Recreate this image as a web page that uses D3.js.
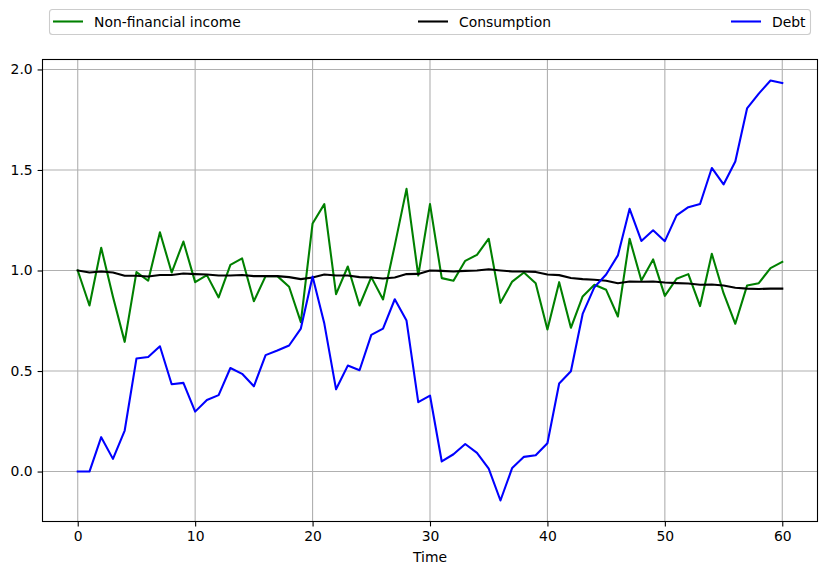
<!DOCTYPE html>
<html><head><meta charset="utf-8">
<script src="https://cdn.jsdelivr.net/npm/d3@7"></script>
<style>
body{margin:0;background:#fff;}
svg{display:block;font-family:"DejaVu Sans",sans-serif;}
</style></head><body>
<svg id="chart" width="826" height="574"></svg>
<script>
const time = d3.range(0, 61);
const income = [1.0,0.826,1.113,0.87,0.645,0.992,0.949,1.19,0.99,1.144,0.942,0.977,0.866,1.028,1.06,0.847,0.972,0.972,0.919,0.743,
  1.234,1.33,0.882,1.02,0.826,0.967,0.856,1.125,1.406,0.975,1.33,0.962,0.949,1.048,1.078,1.158,0.839,0.945,0.99,0.937,
  0.707,0.942,0.715,0.871,0.929,0.904,0.771,1.158,0.95,1.055,0.874,0.959,0.982,0.823,1.083,0.887,0.735,0.925,0.937,1.012,1.043];
const consumption = [1.0,0.99,0.995,0.99,0.974,0.974,0.97,0.978,0.978,0.985,0.982,0.98,0.975,0.975,0.978,0.972,0.972,0.972,0.967,0.957,
  0.965,0.98,0.975,0.975,0.967,0.965,0.96,0.965,0.982,0.983,1.0,0.998,0.995,0.998,1.0,1.006,1.0,0.995,0.995,0.993,
  0.98,0.977,0.963,0.957,0.954,0.949,0.937,0.945,0.944,0.945,0.94,0.937,0.935,0.929,0.93,0.925,0.914,0.91,0.908,0.91,0.91];
const debt = [0.0,0.0,0.171,0.063,0.204,0.562,0.57,0.623,0.434,0.441,0.298,0.356,0.38,0.515,0.486,0.424,0.579,0.602,0.627,0.711,
  0.97,0.736,0.409,0.527,0.504,0.68,0.711,0.857,0.751,0.345,0.378,0.05,0.086,0.137,0.093,0.015,-0.144,0.018,0.073,0.081,
  0.141,0.438,0.499,0.784,0.917,0.98,1.075,1.307,1.147,1.2,1.146,1.274,1.315,1.331,1.51,1.428,1.542,1.806,1.88,1.945,1.932];
const seriesNames = ["Non-financial income", "Consumption", "Debt"];
const seriesColors = ["#008000", "#000000", "#0000ff"];
const xTicks = [0, 10, 20, 30, 40, 50, 60];
const yTicks = [0.0, 0.5, 1.0, 1.5, 2.0];
const xLabel = "Time";

const svg = d3.select("#chart");
const L = 42.5, R = 817.5, T = 59.5, B = 521.5;
const x = d3.scaleLinear().domain([-3, 63]).range([L, R]);
const y = d3.scaleLinear().domain([-0.2485, 2.0495]).range([B, T]);

// grid
const g = svg.append("g");
g.selectAll(".gx").data(xTicks).enter().append("line")
  .attr("x1", d => x(d)).attr("x2", d => x(d)).attr("y1", T).attr("y2", B)
  .attr("stroke", "#b0b0b0").attr("stroke-width", 1.1);
g.selectAll(".gy").data(yTicks).enter().append("line")
  .attr("y1", d => y(d)).attr("y2", d => y(d)).attr("x1", L).attr("x2", R)
  .attr("stroke", "#b0b0b0").attr("stroke-width", 1.1);

// lines
const all = [income, consumption, debt];
const line = d3.line().x((d, i) => x(time[i])).y(d => y(d));
all.forEach((s, k) => {
  svg.append("path").datum(s).attr("d", line)
    .attr("fill", "none").attr("stroke", seriesColors[k]).attr("stroke-width", 2.08)
    .attr("stroke-linejoin", "round").attr("stroke-linecap", "square");
});

// axes
const xAxis = d3.axisBottom(x).tickValues(xTicks).tickFormat(d3.format("d")).tickSize(4.9).tickPadding(4.9);
const yAxis = d3.axisLeft(y).tickValues(yTicks).tickFormat(d3.format(".1f")).tickSize(4.9).tickPadding(4.9);
const gx = svg.append("g").attr("transform", `translate(0,${B})`).call(xAxis);
const gy = svg.append("g").attr("transform", `translate(${L},0)`).call(yAxis);
[gx, gy].forEach(a => {
  a.select(".domain").remove();
  a.selectAll("line").attr("stroke", "#000").attr("stroke-width", 1.1);
  a.selectAll("text").attr("font-size", "13.9px").attr("fill", "#000").attr("font-family", "DejaVu Sans");
});
svg.append("rect").attr("x", L).attr("y", T).attr("width", R - L).attr("height", B - T)
  .attr("fill", "none").attr("stroke", "#000").attr("stroke-width", 1.1);

svg.append("text").attr("x", (L + R) / 2).attr("y", 562).attr("text-anchor", "middle")
  .attr("font-size", "13.9px").attr("fill", "#000").text(xLabel);

// legend
svg.append("rect").attr("x", 49.5).attr("y", 9.5).attr("width", 761).attr("height", 25).attr("rx", 3)
  .attr("fill", "#fff").attr("fill-opacity", 0.8).attr("stroke", "#cccccc").attr("stroke-width", 1.1);
const legX = [53, 418, 731];
seriesNames.forEach((n, k) => {
  svg.append("line").attr("x1", legX[k]).attr("x2", legX[k] + 30).attr("y1", 21.5).attr("y2", 21.5)
    .attr("stroke", seriesColors[k]).attr("stroke-width", 2.08);
  svg.append("text").attr("x", legX[k] + 41).attr("y", 26.5).attr("font-size", "13.9px").attr("fill", "#000").text(n);
});
</script>
</body></html>
